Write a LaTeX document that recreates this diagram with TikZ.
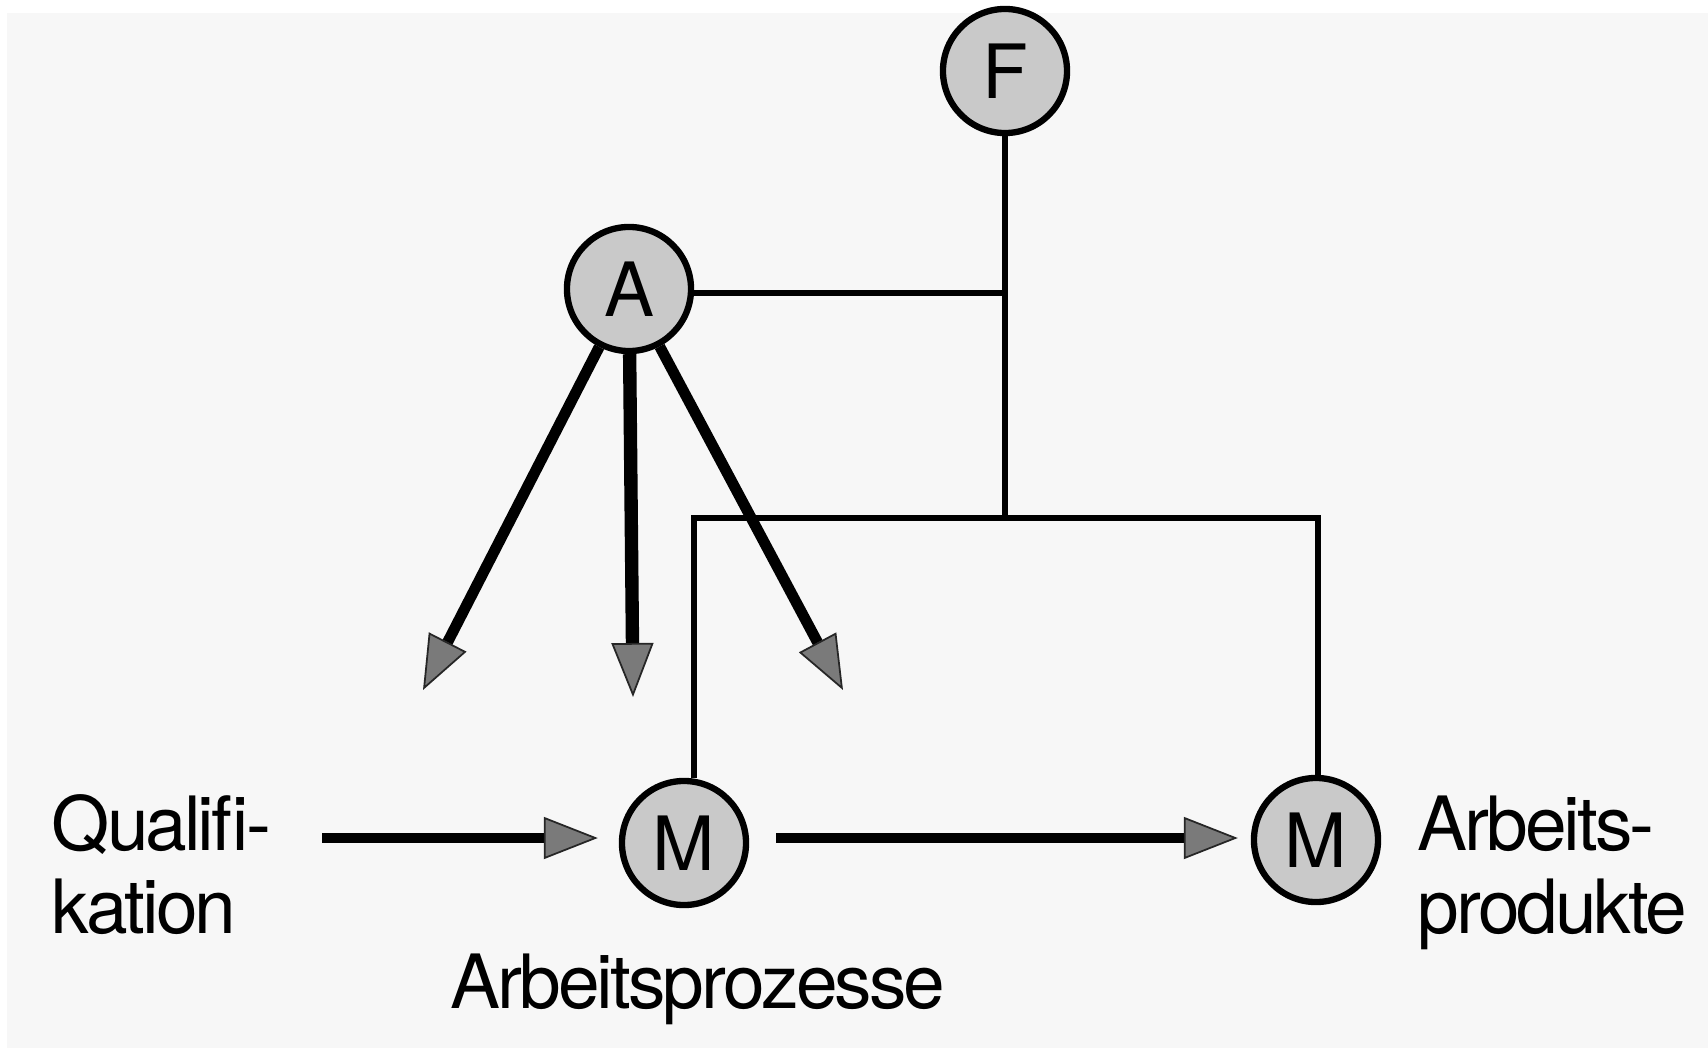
\documentclass[tikz,border=0pt]{standalone}
\usepackage{fontspec}
\setmainfont{TeX Gyre Heros}[LetterSpace=-4]
\usetikzlibrary{arrows.meta}
\definecolor{QPaper}{HTML}{F7F7F7}
\definecolor{QDisc}{HTML}{C9C9C9}
\definecolor{QTip}{HTML}{7A7A7A}

\begin{document}
\begin{tikzpicture}[
  x=0.01cm, y=-0.01cm,
  disc/.style={circle, draw=black, line width=1.8pt, fill=QDisc, minimum size=1.24cm, inner sep=0pt, font=\fontsize{21.3}{23.6}\selectfont},
  txt/.style={anchor=base west, align=left, inner sep=0pt, font=\fontsize{21.3}{23.6}\selectfont},
  link/.style={line width=1.5pt},
  push/.style={line width=3.1pt, -{Triangle[length=0.54cm 0, width=0.42cm 0, fill=QTip, color=black!85, line width=0.5pt 0]}}
]
\useasboundingbox (0,0) rectangle (1708,1048);
\fill[QPaper] (7,13) rectangle (1708,1048);

% circles
\node[disc] (F) at (1005,71) {F};
\node[disc] (A) at (629,289) {A};
\node[disc] (M1) at (684,843) {M};
\node[disc] (M2) at (1316,840) {M};

% texts (anchored on the last line)
\node[txt] (qual) at (51,933) {Qualifi-\\kation};
\node[txt] (proc) at (450,1008) {Arbeitsprozesse};
\node[txt] (prod) at (1417,933) {Arbeits-\\produkte};

% thin links from F and A down to both M
\coordinate (hub) at (1005,518);
\coordinate (barL) at (694,518);
\coordinate (barR) at (1318,518);
\draw[link] (F) -- (hub);
\draw[link] (A.east) ++(0,4) -- (1005,293);
\draw[link] (barL |- M1.north) -- (barL) -- (barR) -- (barR |- M2.north);

% the three arrows out of A
\coordinate (tipL) at (423,690);
\coordinate (tipM) at (633,697);
\coordinate (tipR) at (843,690);
\draw[push] (A) -- (tipL);
\draw[push, line width=3.8pt] (A) -- (tipM);
\draw[push] (A) -- (tipR);

% flow along the bottom
\coordinate (qstart) at (322,838);
\coordinate (mid) at (776,838);
\draw[push, line width=2.9pt, shorten >=0.21cm] (qstart) -- (qstart -| M1.west);
\draw[push, line width=2.9pt, shorten >=0.13cm] (mid) -- (mid -| M2.west);
\end{tikzpicture}
\end{document}
